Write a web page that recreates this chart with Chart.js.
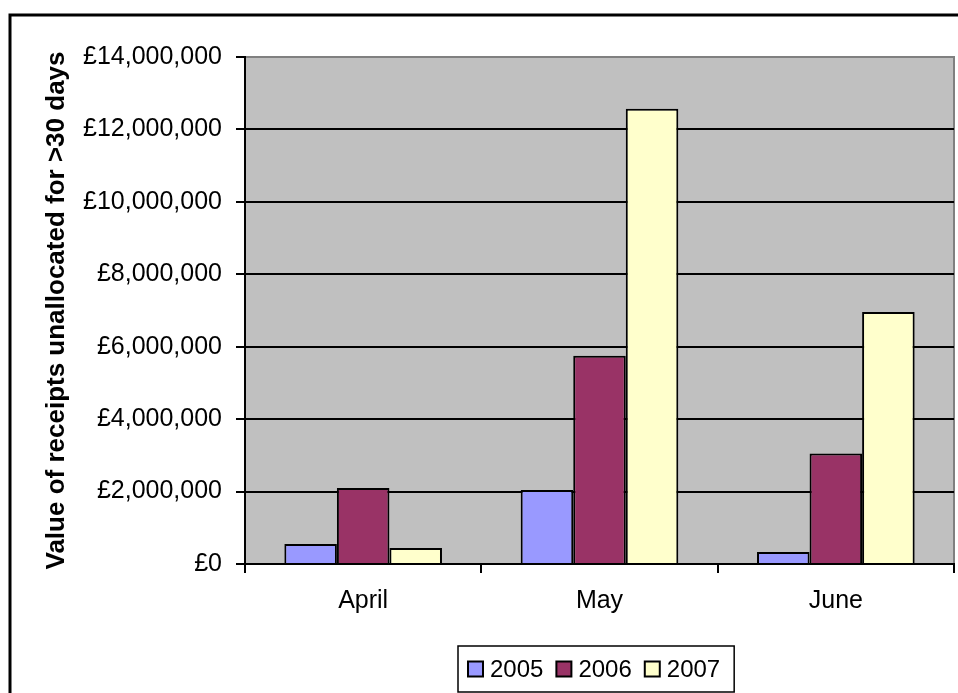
<!DOCTYPE html>
<html>
<head>
<meta charset="utf-8">
<script src="https://cdn.jsdelivr.net/npm/chart.js@4/dist/chart.umd.min.js"></script>
<style>
  html, body { margin: 0; padding: 0; background: #fff; }
  #wrap { width: 958px; height: 693px; }
</style>
</head>
<body>
<div id="wrap"><canvas id="receiptsChart" width="958" height="693"></canvas></div>
<script>
const months = ['April', 'May', 'June'];
const years = ['2005', '2006', '2007'];
const values2005 = [550000, 2040000, 330000];
const values2006 = [2100000, 5750000, 3050000];
const values2007 = [440000, 12570000, 6960000];
const yTicks = [0, 2000000, 4000000, 6000000, 8000000, 10000000, 12000000, 14000000];
const barColours = ['#9999FF', '#993366', '#FFFFCC'];

const FONT = "'Liberation Sans', Arial, sans-serif";

// grey plot background + grey top/right edge, outer frame
const plotBackground = {
    id: 'plotBackground',
    beforeDraw(chart) {
        const {ctx, chartArea: a} = chart;
        ctx.save();
        ctx.fillStyle = '#C0C0C0';
        ctx.fillRect(a.left, a.top, a.right - a.left, a.bottom - a.top);
        ctx.strokeStyle = '#808080';
        ctx.lineWidth = 2;
        ctx.beginPath();
        ctx.moveTo(a.left, a.top);
        ctx.lineTo(a.right, a.top);
        ctx.lineTo(a.right, a.bottom);
        ctx.stroke();
        ctx.strokeStyle = '#000';
        ctx.lineWidth = 3;
        ctx.strokeRect(10, 15, 1200, 1200);
        ctx.restore();
    }
};

// boxed legend under the plot
const boxedLegend = {
    id: 'boxedLegend',
    afterDraw(chart) {
        const ctx = chart.ctx;
        const sets = chart.data.datasets;
        ctx.save();
        ctx.font = '24px ' + FONT;
        const box = 15, gapText = 7, gapItem = 13, padL = 10, padR = 14;
        let total = padL + padR;
        const widths = sets.map(d => ctx.measureText(d.label).width);
        widths.forEach((w, i) => { total += box + gapText + w + (i < sets.length - 1 ? gapItem : 0); });
        const left = Math.round(596.5 - total / 2);
        const top = 646, height = 46, midY = top + height / 2;
        ctx.strokeStyle = '#000';
        ctx.lineWidth = 1.5;
        ctx.strokeRect(left, top, total, height);
        let x = left + padL;
        ctx.textBaseline = 'middle';
        ctx.textAlign = 'left';
        sets.forEach((d, i) => {
            ctx.fillStyle = d.backgroundColor;
            ctx.fillRect(x, midY - box / 2, box, box);
            ctx.lineWidth = 2;
            ctx.strokeRect(x, midY - box / 2, box, box);
            x += box + gapText;
            ctx.fillStyle = '#000';
            ctx.fillText(d.label, x, midY + 1);
            x += widths[i] + gapItem;
        });
        ctx.restore();
    }
};

const ctx = document.getElementById('receiptsChart').getContext('2d');
const receiptsChart = new Chart(ctx, {
    type: 'bar',
    data: {
        labels: months,
        datasets: [values2005, values2006, values2007].map((vals, i) => ({
            label: years[i],
            data: vals,
            backgroundColor: barColours[i],
            borderColor: '#000',
            borderWidth: 2,
            borderSkipped: 'bottom',
            categoryPercentage: 0.667,
            barPercentage: 1
        }))
    },
    options: {
        responsive: false,
        animation: false,
        layout: { padding: { top: 57, right: 4, bottom: 69, left: 0 } },
        plugins: {
            legend: { display: false },
            tooltip: { enabled: false }
        },
        scales: {
            x: {
                grid: {
                    offset: true,
                    drawOnChartArea: false,
                    color: '#000',
                    lineWidth: 2,
                    tickLength: 9
                },
                border: { color: '#000', width: 2 },
                ticks: { color: '#000', font: { family: FONT, size: 25 }, padding: 13 },
                afterFit(scale) { scale.height = 60; }
            },
            y: {
                min: 0,
                max: 14000000,
                afterBuildTicks(scale) { scale.ticks = yTicks.map(v => ({ value: v })); },
                grid: {
                    color: c => (c.tick && c.tick.value === 14000000 ? '#808080' : '#000'),
                    tickColor: '#000',
                    lineWidth: 2,
                    tickLength: 9
                },
                border: { color: '#000', width: 2 },
                ticks: {
                    color: '#000',
                    font: { family: FONT, size: 25 },
                    padding: 14,
                    callback: v => '£' + Number(v).toLocaleString('en-GB')
                },
                title: {
                    display: true,
                    text: 'Value of receipts unallocated for >30 days',
                    color: '#000',
                    font: { family: FONT, size: 26, weight: 'bold' },
                    padding: { top: 41, bottom: 0 }
                },
                afterFit(scale) { scale.width = 245; }
            }
        }
    },
    plugins: [plotBackground, boxedLegend]
});
</script>
</body>
</html>
